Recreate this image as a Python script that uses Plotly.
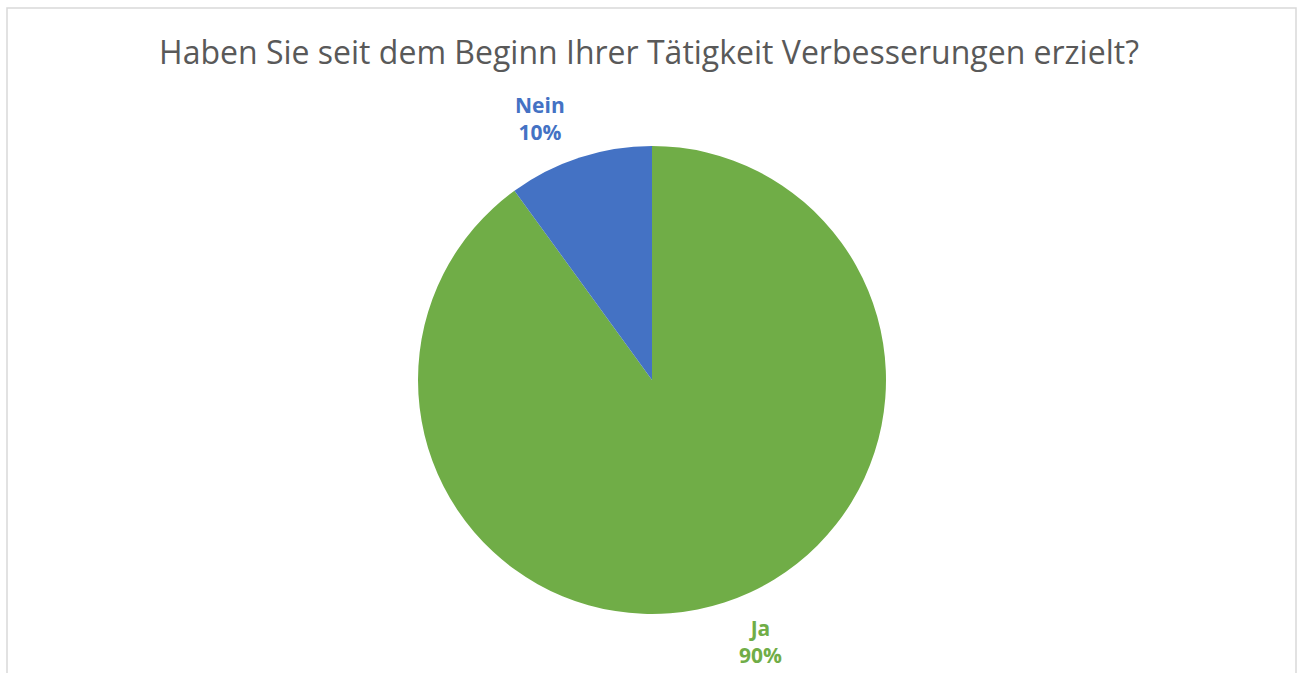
import math
import plotly.graph_objects as go

title = "Haben Sie seit dem Beginn Ihrer Tätigkeit Verbesserungen erzielt?"
labels = ["Ja", "Nein"]
values = [90, 10]
colors = ["#70AD47", "#4472C4"]

W, H = 1298, 673
# pie placement (pixels)
cx, cy, R = 652, 380, 234

dom_x = [(cx - R) / W, (cx + R) / W]
dom_y = [(H - (cy + R)) / H, (H - (cy - R)) / H]

fig = go.Figure(go.Pie(
    labels=labels, values=values,
    marker=dict(colors=colors, line=dict(color="white", width=0)),
    sort=False, direction="clockwise", rotation=0,
    textinfo="none", hoverinfo="label+percent",
    domain=dict(x=dom_x, y=dom_y),
    showlegend=False,
))

# data labels placed outside at each slice's mid angle
total = sum(values)
cum = 0
annotations = []
for lab, v, col in zip(labels, values, colors):
    mid = (cum + v / 2) / total * 2 * math.pi
    cum += v
    rl = 1.175 * R
    px = cx + math.sin(mid) * rl
    py = cy - math.cos(mid) * rl
    pct = round(v / total * 100)
    annotations.append(dict(
        x=px / W, y=(H - py) / H, xref="paper", yref="paper",
        text=f"<b>{lab}</b><br><b>{pct}%</b>", showarrow=False,
        xanchor="left" if math.sin(mid) > 0 else "right", yanchor="middle",
        align="center",
        font=dict(family="Open Sans", size=21, color=col),
    ))

fig.update_layout(
    width=W, height=H,
    margin=dict(l=0, r=0, t=0, b=0),
    paper_bgcolor="white",
    title=dict(text=title, x=0.5, xanchor="center", y=(H - 53) / H, yanchor="middle",
               font=dict(family="Open Sans", size=32, color="#595959")),
    annotations=annotations,
    shapes=[dict(type="rect", xref="paper", yref="paper",
                 x0=7 / W, x1=1296 / W, y0=-0.05, y1=(H - 8) / H,
                 line=dict(color="#D9D9D9", width=1.5), fillcolor="rgba(0,0,0,0)")],
)

fig.write_html("out.html", config={"displayModeBar": False},
               post_script="document.body.style.margin='0px';")
